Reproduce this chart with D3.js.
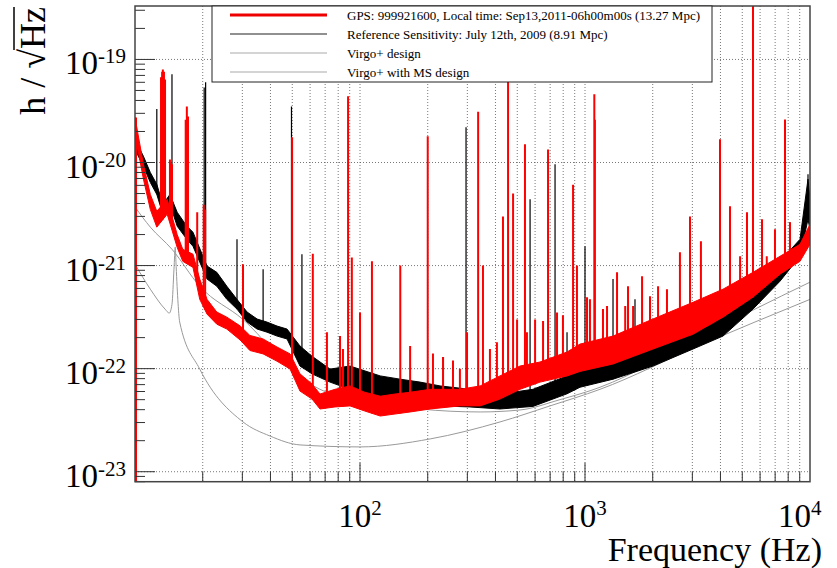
<!DOCTYPE html>
<html>
<head>
<meta charset="utf-8">
<script src="https://cdn.jsdelivr.net/npm/d3@7/dist/d3.min.js"></script>
<style>
	body { margin: 0; background: #fff; }
	text { font-family: "Liberation Serif", "Times New Roman", serif; fill: #000; }
</style>
</head>
<body>
<svg id="chart" width="837" height="568" font-family="Liberation Serif, Times New Roman, serif"></svg>
<script>
// axis ranges and labels
var xDomain = [10, 10000];
var yDomain = [8e-24, 3.3e-19];
var xLabelExps = [2, 3, 4];
var yLabelExps = [-19, -20, -21, -22, -23];
var xTitle = 'Frequency (Hz)';

var legendLabels = [
	'GPS: 999921600, Local time: Sep13,2011-06h00m00s (13.27 Mpc)',
	'Reference Sensitivity: July 12th, 2009 (8.91 Mpc)',
	'Virgo+ design',
	'Virgo+ with MS design'
];

// red: Sep 13 2011 spectrum, noise floor band (upper / lower edge) + lines
var redFreq = [10, 10.9, 11.7, 12.5, 13.9, 15.4, 16.3, 18.1, 19.4, 20.9, 23.1, 25.6, 29.3, 32.4, 37.1, 42.8, 48.9, 54.1, 61.2, 66.4, 77.4, 90.3, 105, 123, 143, 167, 205, 278, 342, 419, 514, 631, 832, 950, 1332, 2005, 3020, 4105, 5580, 7356, 9028, 10000];
var redHi = [2.74e-20, 9.6e-21, 4.9e-21, 3.36e-21, 4.4e-21, 2.0e-21, 1.44e-21, 1.29e-21, 7.4e-22, 4.7e-22, 3.54e-22, 3.16e-22, 2.6e-22, 2.1e-22, 1.94e-22, 1.62e-22, 1.39e-22, 8.9e-23, 7.1e-23, 5.67e-23, 6.3e-23, 6.8e-23, 5.9e-23, 5.4e-23, 5.67e-23, 5.9e-23, 6.3e-23, 6.3e-23, 6.8e-23, 8.5e-23, 1.06e-22, 1.16e-22, 1.45e-22, 1.73e-22, 2.07e-22, 3.03e-22, 4.4e-22, 5.9e-22, 8.6e-22, 1.23e-21, 1.61e-21, 2.52e-21];
var redLo = [1.87e-20, 6.9e-21, 3.5e-21, 2.36e-21, 3.15e-21, 1.5e-21, 1.1e-21, 9.6e-22, 4.7e-22, 3.38e-22, 2.7e-22, 2.42e-22, 1.9e-22, 1.5e-22, 1.39e-22, 1.18e-22, 9.9e-23, 6.06e-23, 5.07e-23, 4.06e-23, 4.25e-23, 4.35e-23, 3.88e-23, 3.47e-23, 3.63e-23, 3.8e-23, 4.06e-23, 4.35e-23, 4.35e-23, 5.07e-23, 6.3e-23, 7.4e-23, 8.5e-23, 9.4e-23, 1.11e-22, 1.55e-22, 2.16e-22, 3.16e-22, 4.94e-22, 8.25e-22, 1.1e-21, 1.61e-21];
var redSpikes = [
	[13.05, 6.7e-20], [13.2, 7.6e-20], [13.3, 8.0e-20], [13.45, 7.6e-20], [13.6, 6.4e-20],
	[14.3, 1.07e-20], [14.45, 1.0e-20], [14.6, 9.6e-21], [16.8, 2.6e-20], [17.0, 3.5e-20], [17.2, 2.8e-20],
	[18.9, 3.3e-21], [20.2, 3.9e-21], [20.5, 3.5e-21], [30.2, 1.03e-21], [49.9, 1.76e-20],
	[61.7, 1.3e-21], [71.3, 2.26e-22], [81.5, 2.07e-22], [84, 1.55e-22], [88.5, 4.4e-20], [92, 1.2e-21],
	[100, 3.5e-22], [113, 1.1e-21], [151, 1.0e-21], [167, 1.66e-22], [200, 1.8e-20], [211, 1.4e-22],
	[234, 1.3e-22], [259, 1.2e-22], [278, 1.0e-22], [299, 2.26e-22], [335, 3.1e-20], [352, 1e-21],
	[378, 1.55e-22], [406, 1.8e-22], [432, 3e-21], [455, 5e-19], [479, 5e-21], [499, 3e-22],
	[541, 1.5e-20], [552, 2.26e-22], [600, 3e-22], [651, 2.9e-22], [685, 1.34e-20], [751, 3.5e-22],
	[798, 3.3e-22], [885, 6.1e-21], [921, 1e-21], [1021, 4.94e-22], [1052, 4.7e-22], [1100, 4.6e-20],
	[1202, 3.78e-22], [1253, 4.05e-22], [1388, 8.6e-22], [1509, 4.05e-22], [1553, 6.3e-22],
	[1636, 4.05e-22], [1793, 7.9e-22], [1945, 5.05e-22], [2112, 6.3e-22], [2314, 5.9e-22],
	[2642, 1.35e-21], [2929, 3.0e-21], [3275, 1.72e-21], [3981, 1.68e-20], [4410, 3.76e-21],
	[4889, 1.23e-21], [5248, 3.29e-21], [5580, 5e-19], [6119, 2.81e-21], [6424, 1.23e-21],
	[6988, 2.25e-21], [7743, 2.62e-20], [8145, 2.63e-21]
];
var redFirstBin = [10, 2.74e-20];

// black: July 12th 2009 reference
var blackFreq = [10, 10.9, 11.7, 12.5, 13.3, 14.3, 15.4, 17.0, 18.1, 20.9, 23.1, 25.6, 28.4, 31.5, 34.9, 38.6, 42.8, 47.4, 54.1, 61.2, 73.6, 90.3, 123, 151, 185, 227, 308, 419, 587, 832, 950, 1332, 2005, 3020, 4105, 5580, 7356, 9028, 9797, 10000];
var blackHi = [1.68e-20, 1.15e-20, 8.0e-21, 6.15e-21, 3.93e-21, 4.9e-21, 3.29e-21, 2.41e-21, 2.11e-21, 9.9e-22, 8.6e-22, 6.3e-22, 4.7e-22, 3.54e-22, 3.03e-22, 2.83e-22, 2.59e-22, 2.42e-22, 1.66e-22, 1.32e-22, 9.9e-23, 1.06e-22, 8.5e-23, 7.9e-23, 7.4e-23, 6.8e-23, 6.3e-23, 5.67e-23, 6.3e-23, 8.5e-23, 9.4e-23, 1.24e-22, 1.81e-22, 2.42e-22, 3.54e-22, 5.9e-22, 1.1e-21, 1.8e-21, 6.9e-21, 4.4e-21];
var blackLo = [1.34e-20, 9.2e-21, 6.4e-21, 4.9e-21, 3.15e-21, 3.93e-21, 2.41e-21, 1.8e-21, 1.54e-21, 7.4e-22, 6.3e-22, 4.7e-22, 3.78e-22, 2.83e-22, 2.42e-22, 2.26e-22, 2.07e-22, 1.94e-22, 1.06e-22, 8.9e-23, 7.4e-23, 6.3e-23, 5.4e-23, 5.07e-23, 4.35e-23, 4.35e-23, 4.25e-23, 4.06e-23, 4.3e-23, 5.7e-23, 6.6e-23, 7.9e-23, 1.06e-22, 1.55e-22, 2.07e-22, 3.78e-22, 7.05e-22, 1.23e-21, 2.81e-21, 2.25e-21];
var blackSpikes = [
	[12.5, 3.3e-20], [14.6, 7.2e-20], [20.3, 5.35e-20], [20.6, 6e-20], [28.4, 1.8e-21], [37.1, 9.2e-22],
	[49.6, 3.5e-20], [55.2, 1.29e-21], [234, 1.3e-22], [296, 2.2e-20], [570, 4.4e-21], [736, 9.6e-21],
	[832, 2.26e-22], [1000, 1.54e-21], [1108, 2.6e-20], [1332, 7.4e-22], [1668, 4.7e-22],
	[8145, 2.63e-21], [9797, 7.7e-21]
];

// design curves
var designFreq = [10, 11.7, 14.6, 19.4, 30.2, 54.1, 66.4, 100, 185, 342, 514, 774, 1166, 1945, 3244, 5580, 10000];
var designVal = [3.7e-21, 2.36e-21, 1.44e-21, 6.3e-22, 3.0e-22, 8.3e-23, 6.3e-23, 5.0e-23, 4.06e-23, 3.8e-23, 3.97e-23, 5.0e-23, 6.6e-23, 1.1e-22, 2.02e-22, 3.7e-22, 6.9e-22];
var msFreq = [10, 11.7, 13.6, 14.2, 14.6, 14.9, 15.1, 15.2, 15.5, 15.8, 19.4, 30.2, 39.8, 54.1, 100, 205, 419, 699, 1166, 3244, 10000];
var msVal = [1.03e-21, 5.9e-22, 3.78e-22, 3.46e-22, 4.2e-22, 9.2e-22, 1.51e-21, 1.1e-21, 4.7e-22, 2.83e-22, 9.9e-23, 3.04e-23, 2.22e-23, 1.82e-23, 1.74e-23, 2.08e-23, 3.04e-23, 4.35e-23, 6.3e-23, 1.69e-22, 4.7e-22];

var width = 837,
	height = 568,
	serif = '"Liberation Serif", "Times New Roman", serif',
	plot = { left: 135, right: 810, top: 6, bottom: 481.7 },
	svg = d3.select('#chart'),
	x = d3.scaleLog().domain(xDomain).range([plot.left, plot.right]),
	y = d3.scaleLog().domain(yDomain).range([plot.bottom, plot.top]);

function isDecade(v) {
	var l = Math.log10(v);
	return Math.abs(l - Math.round(l)) < 1e-6;
}

function zip(f, v) {
	return f.map(function (d, i) { return [d, v[i]]; });
}

svg.append('defs').append('clipPath')
	.attr('id', 'plotClip')
	.append('rect')
	.attr('x', plot.left)
	.attr('y', plot.top)
	.attr('width', plot.right - plot.left)
	.attr('height', plot.bottom - plot.top);

// grid
var xGrid = x.ticks().filter(function (d) { return d > xDomain[0] && d < xDomain[1]; });
var yDecades = yLabelExps.map(function (e) { return Math.pow(10, e); });

var grid = svg.append('g').attr('class', 'grid')
	.attr('stroke', '#555')
	.attr('stroke-width', 0.8)
	.attr('stroke-dasharray', '1,2');

grid.selectAll('.gx').data(xGrid).enter().append('line')
	.attr('x1', function (d) { return x(d); })
	.attr('x2', function (d) { return x(d); })
	.attr('y1', plot.top)
	.attr('y2', plot.bottom);

grid.selectAll('.gy').data(yDecades).enter().append('line')
	.attr('x1', plot.left)
	.attr('x2', plot.right)
	.attr('y1', function (d) { return y(d); })
	.attr('y2', function (d) { return y(d); });

var curves = svg.append('g').attr('clip-path', 'url(#plotClip)');

var line = d3.line()
	.curve(d3.curveMonotoneX)
	.x(function (d) { return x(d[0]); })
	.y(function (d) { return y(d[1]); });

// design curves
[zip(designFreq, designVal), zip(msFreq, msVal)].forEach(function (c) {
	curves.append('path')
		.datum(c)
		.attr('fill', 'none')
		.attr('stroke', '#999')
		.attr('stroke-width', 1)
		.attr('d', line);
});

function drawSpectrum(freq, hi, lo, spikes, color, spikeWidth) {
	var g = curves.append('g');
	var data = freq.map(function (f, i) { return { f: f, hi: hi[i], lo: lo[i] }; });
	var floorLo = d3.scaleLog().domain(freq).range(lo);

	var band = d3.area()
		.x(function (d) { return x(d.f); })
		.y0(function (d) { return y(d.lo); })
		.y1(function (d) { return y(d.hi); });

	g.append('path')
		.datum(data)
		.attr('fill', color)
		.attr('stroke', color)
		.attr('stroke-width', 1)
		.attr('d', band);

	g.selectAll('.spike').data(spikes).enter().append('line')
		.attr('stroke', color)
		.attr('stroke-width', spikeWidth)
		.attr('x1', function (d) { return x(d[0]); })
		.attr('x2', function (d) { return x(d[0]); })
		.attr('y1', function (d) { return y(floorLo(d[0])); })
		.attr('y2', function (d) { return y(d[1]); });
	return g;
}

drawSpectrum(blackFreq, blackHi, blackLo, blackSpikes, '#000', 1.2);
var red = drawSpectrum(redFreq, redHi, redLo, redSpikes, '#f00', 2);

// the first (empty) bin drops to the bottom of the axis
red.append('line')
	.attr('stroke', '#f00')
	.attr('stroke-width', 2)
	.attr('x1', x(redFirstBin[0]) + 1)
	.attr('x2', x(redFirstBin[0]) + 1)
	.attr('y1', plot.bottom)
	.attr('y2', y(redFirstBin[1]));

// ticks
var axes = svg.append('g').attr('stroke', '#333').attr('stroke-width', 1);
var yTicks = y.ticks().filter(function (d) { return d >= yDomain[0] && d <= yDomain[1]; });

axes.selectAll('.ty').data(yTicks).enter().append('line')
	.attr('x1', plot.left)
	.attr('x2', function (d) { return plot.left + (isDecade(d) ? 20 : 10); })
	.attr('y1', function (d) { return y(d); })
	.attr('y2', function (d) { return y(d); });

axes.selectAll('.tx').data(xGrid).enter().append('line')
	.attr('x1', function (d) { return x(d); })
	.attr('x2', function (d) { return x(d); })
	.attr('y1', plot.bottom)
	.attr('y2', function (d) { return plot.bottom - (isDecade(d) ? 19 : 10); });

// frame
svg.append('rect')
	.attr('x', plot.left)
	.attr('y', plot.top)
	.attr('width', plot.right - plot.left)
	.attr('height', plot.bottom - plot.top)
	.attr('fill', 'none')
	.attr('stroke', '#444')
	.attr('stroke-width', 1.5);

// tick labels
svg.selectAll('.ylab').data(yLabelExps).enter().append('text')
	.attr('x', 126)
	.attr('y', function (d) { return y(Math.pow(10, d)) + 15; })
	.attr('text-anchor', 'end')
	.style('font-family', serif)
	.style('font-size', '33px')
	.each(function (d) {
		var t = d3.select(this);
		t.append('tspan').text('10');
		t.append('tspan').attr('dy', -11).style('font-size', '21px').text(d);
	});

svg.selectAll('.xlab').data(xLabelExps).enter().append('text')
	.attr('x', function (d) { return x(Math.pow(10, d)); })
	.attr('y', 527)
	.attr('text-anchor', 'middle')
	.style('font-family', serif)
	.style('font-size', '33px')
	.each(function (d) {
		var t = d3.select(this);
		t.append('tspan').text('10');
		t.append('tspan').attr('dy', -12).style('font-size', '21px').text(d);
		var b = this.getBBox();
		if (b.x + b.width > 822) {
			t.attr('x', +t.attr('x') - (b.x + b.width - 822));
		}
	});

// axis titles
svg.append('text')
	.attr('x', 822)
	.attr('y', 561)
	.attr('text-anchor', 'end')
	.style('font-family', serif)
	.style('font-size', '34px')
	.text(xTitle);

var yTitle = svg.append('text')
	.attr('transform', 'translate(45,7) rotate(-90)')
	.attr('text-anchor', 'end')
	.style('font-family', serif)
	.style('font-size', '36px');
yTitle.append('tspan').text('h / \u221A');
yTitle.append('tspan').text('Hz');
var rootBox = yTitle.node().getExtentOfChar(4);
svg.append('line')
	.attr('transform', 'translate(45,7) rotate(-90)')
	.attr('x1', rootBox.x + rootBox.width - 1)
	.attr('x2', 0)
	.attr('y1', rootBox.y + 1)
	.attr('y2', rootBox.y + 1)
	.attr('stroke', '#000')
	.attr('stroke-width', 1.5);

// legend
var legend = svg.append('g');
legend.append('rect')
	.attr('x', 212)
	.attr('y', 6)
	.attr('width', 500)
	.attr('height', 76)
	.attr('fill', '#fff')
	.attr('stroke', '#222')
	.attr('stroke-width', 1);

var legendStyle = [
	{ color: '#e00', w: 3 },
	{ color: '#222', w: 1.2 },
	{ color: '#aaa', w: 1.2 },
	{ color: '#aaa', w: 1.2 }
];

var rows = legend.selectAll('.row').data(legendLabels).enter().append('g')
	.attr('transform', function (d, i) { return 'translate(0,' + (15 + i * 19) + ')'; });

rows.append('line')
	.attr('x1', 230)
	.attr('x2', 327)
	.attr('stroke', function (d, i) { return legendStyle[i].color; })
	.attr('stroke-width', function (d, i) { return legendStyle[i].w; });

rows.append('text')
	.attr('x', 347)
	.attr('y', 5)
	.style('font-family', serif)
	.style('font-size', '13px')
	.text(function (d) { return d; });
</script>
</body>
</html>
